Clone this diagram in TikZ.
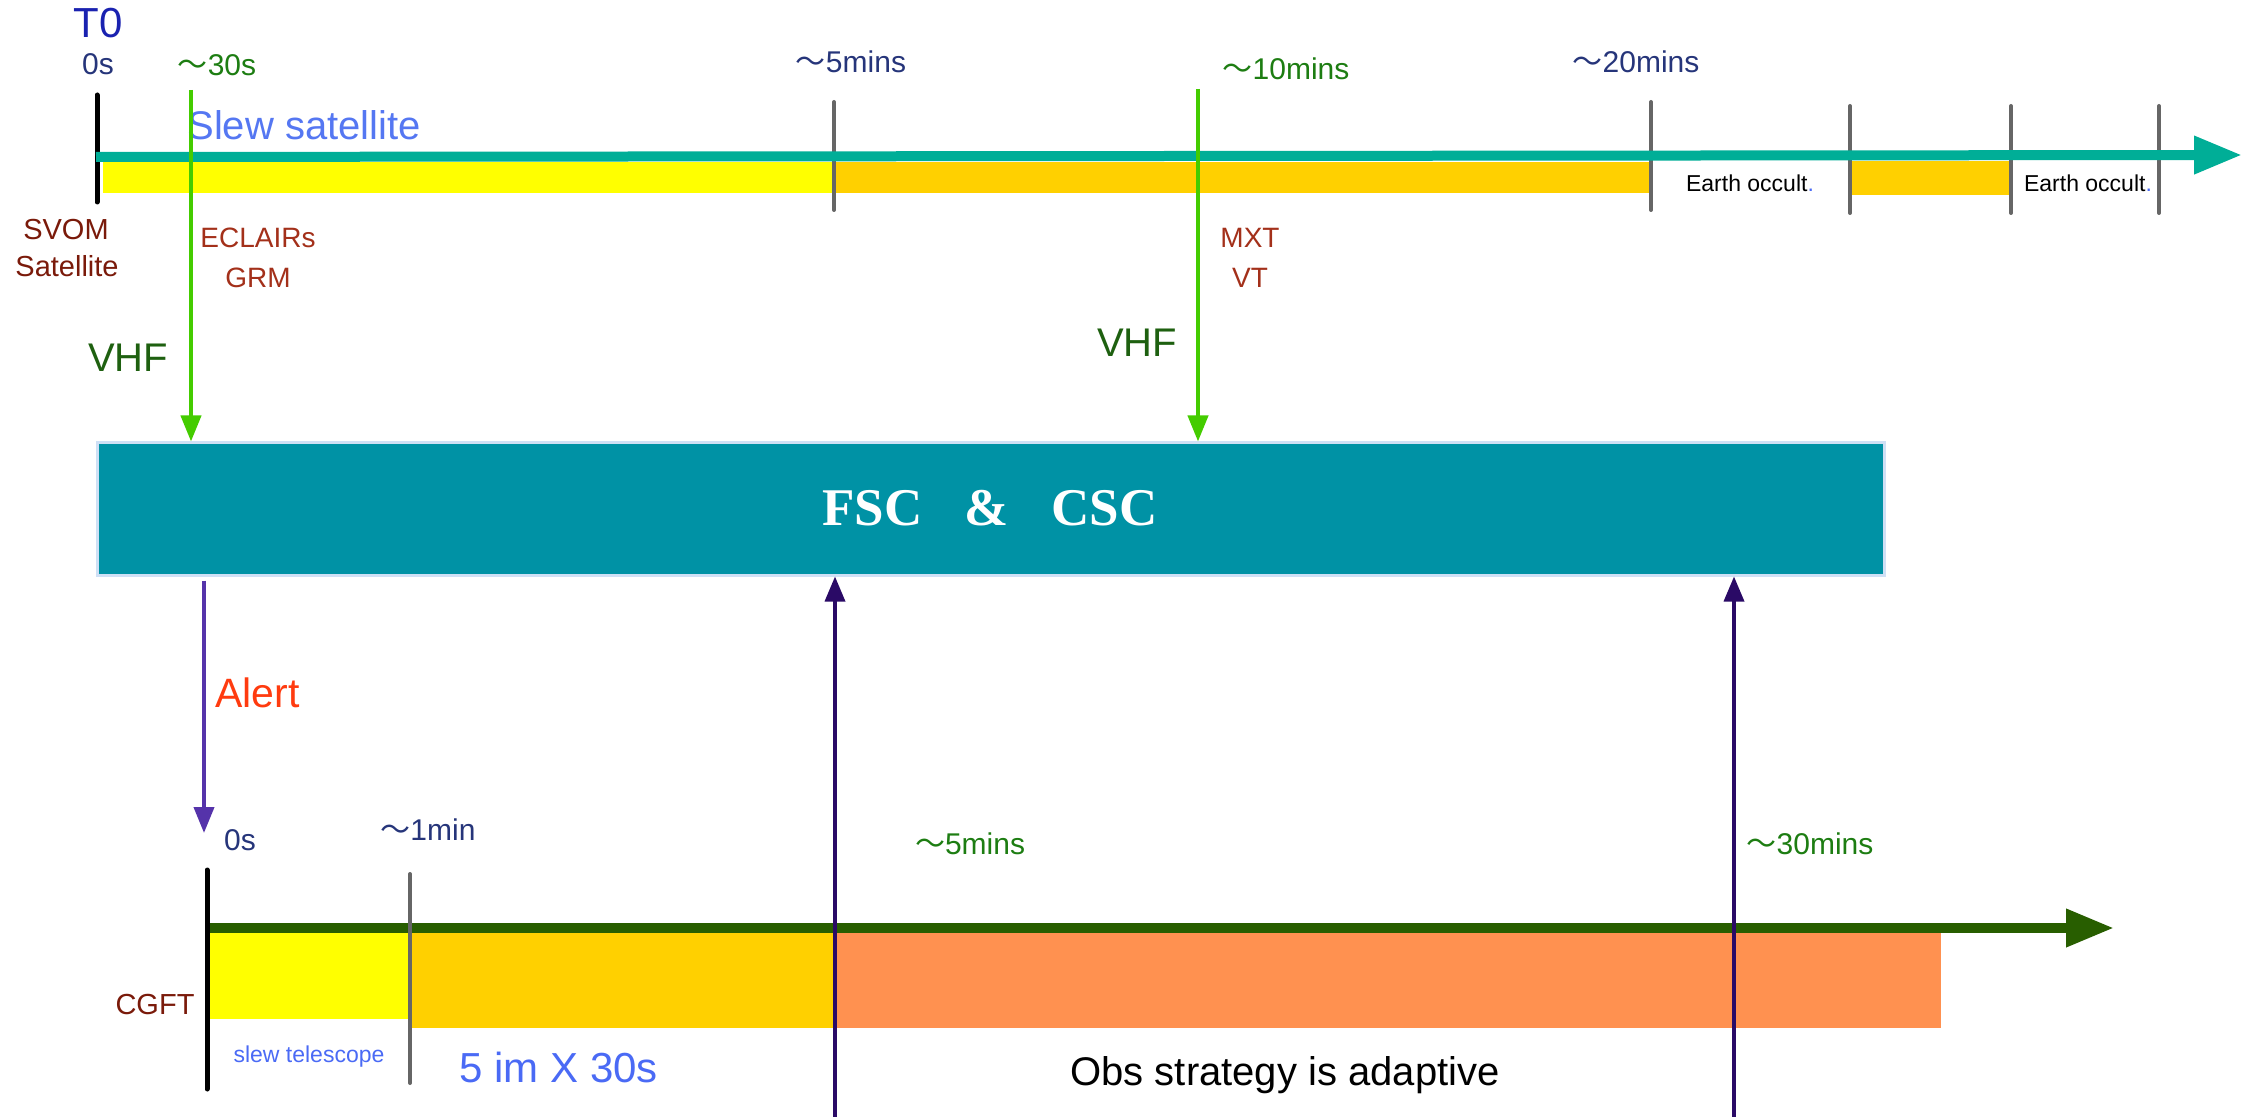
\documentclass[tikz,border=0pt]{standalone}
\usepackage{fontspec}
\setmainfont{Liberation Sans}
\newfontfamily\boxserif{Liberation Serif}
\newfontfamily\cjk{Noto Sans CJK SC}
\usetikzlibrary{arrows.meta}
\newcommand{\mytilde}{{\cjk ～}}
\newcommand{\pxs}[1]{\fontsize{#1}{#1}\selectfont}
\definecolor{tealarrow}{HTML}{00AE97}
\definecolor{yellowbar}{RGB}{255,255,0}
\definecolor{goldbar}{HTML}{FFD000}
\definecolor{orangebar}{HTML}{FF9150}
\definecolor{tickgray}{HTML}{666666}
\definecolor{vgreen}{HTML}{44CC00}
\definecolor{boxfill}{HTML}{0092A5}
\definecolor{boxedge}{HTML}{CFE0F5}
\definecolor{navy}{HTML}{26357A}
\definecolor{tzero}{HTML}{1A22B0}
\definecolor{lgreen}{HTML}{1D7D12}
\definecolor{vhfgreen}{HTML}{1E6010}
\definecolor{slewblue}{HTML}{5577F2}
\definecolor{darkred}{HTML}{7A1A0A}
\definecolor{instred}{HTML}{A3301A}
\definecolor{alertred}{HTML}{FF3B0F}
\definecolor{alertpurple}{HTML}{5533AA}
\definecolor{uppurple}{HTML}{2A0A66}
\definecolor{dgreen}{HTML}{285E00}
\definecolor{dotblue}{HTML}{4A6AF5}
\begin{document}
\begin{tikzpicture}[x=0.5pt,y=-0.5pt,
  lbl/.style={inner sep=0pt, anchor=base},
  timelbl/.style={lbl, font=\pxs{15}},
  instlbl/.style={lbl, font=\pxs{14}, text=instred},
  hostlbl/.style={lbl, font=\pxs{14.5}, text=darkred},
  vhflbl/.style={lbl, font=\pxs{20}, text=vhfgreen},
  occlbl/.style={lbl, font=\pxs{11.5}, text=black},
  ticktall/.style={line width=2.5pt, line cap=round, black},
  tickgrey/.style={line width=2pt, line cap=round, tickgray},
  vhfarrow/.style={line width=2pt, vgreen, -{Triangle[length=13pt,width=10pt]}},
  uparrow/.style={line width=1.75pt, uppurple, -{Triangle[length=12.5pt,width=10pt]}},
]
\useasboundingbox (0,0) rectangle (2243,1117);

% ---------- top timeline (SVOM satellite) ----------
\fill[fill=yellowbar] (103,162) rectangle (834,193);
\fill[fill=goldbar] (834,162) rectangle (1650,193);
\fill[fill=goldbar] (1852,161) rectangle (2010,195);
\draw[ticktall] (97,95) -- (97,202);
\draw[tickgrey] (834,102) -- (834,210);
\draw[tickgrey] (1651,102) -- (1651,210);
\draw[tickgrey] (1850,106) -- (1850,213);
\draw[tickgrey] (2011,106) -- (2011,213);
\draw[tickgrey] (2159,106) -- (2159,213);
\coordinate (topstart) at (96,157);
\coordinate (topend) at (2242,155);
\draw[line width=5pt, tealarrow, -{Triangle[length=24pt,width=18pt]}] (topstart) -- (topend);

\node[lbl, font=\pxs{21}, text=tzero] (t0) at (98,38) {T0};
\node[timelbl, text=navy] (t0s) at (98,75) {0s};
\node[timelbl, text=lgreen] (t30s) at (217,76) {\mytilde30s};
\node[timelbl, text=navy] (t5m) at (851,73) {\mytilde5mins};
\node[timelbl, text=lgreen] (t10m) at (1286,80) {\mytilde10mins};
\node[timelbl, text=navy] (t20m) at (1636,73) {\mytilde20mins};
\node[lbl, anchor=base west, font=\pxs{20}, text=slewblue] (slew) at (187,140) {Slew satellite};
\node[hostlbl] (svom1) at (66,240) {SVOM};
\node[hostlbl] (svom2) at (67,277) {Satellite};
\node[instlbl] (eclairs) at (258,248) {ECLAIRs};
\node[instlbl] (grm) at (258,288) {GRM};
\node[instlbl] (mxt) at (1250,248) {MXT};
\node[instlbl] (vt) at (1250,288) {VT};
\node[occlbl] (occ1) at (1750,192) {Earth occult{\color{dotblue}.}};
\node[occlbl] (occ2) at (2088,192) {Earth occult{\color{dotblue}.}};
\node[vhflbl] (vhf1) at (128,372) {VHF};
\node[vhflbl] (vhf2) at (1137,357) {VHF};

% ---------- central box ----------
\node[draw=boxedge, line width=1.5pt, fill=boxfill, inner sep=0pt,
      minimum width=893.5pt, minimum height=66pt] (fsc) at (990.5,509) {};
\node[lbl, font=\boxserif\bfseries\pxs{26.5}, text=white] (fsctext) at (990,525)
  {FSC\hspace{0.8em}\&\hspace{0.8em}CSC};

% VHF arrows
\coordinate (g1) at (191,90);
\coordinate (g2) at (1198,89);
\draw[vhfarrow] (g1) -- (g1 |- fsc.north);
\draw[vhfarrow] (g2) -- (g2 |- fsc.north);

% ---------- bottom timeline (CGFT) ----------
\fill[fill=yellowbar] (210,933) rectangle (410,1019);
\fill[fill=goldbar] (410,933) rectangle (834,1028);
\fill[fill=orangebar] (834,933) rectangle (1941,1028);
\coordinate (botstart) at (207,928);
\coordinate (botend) at (2114,928);
\draw[line width=5pt, dgreen, -{Triangle[length=24pt,width=18pt]}] (botstart) -- (botend);
\draw[ticktall] (207,870) -- (207,1089);
\draw[tickgrey] (410,874) -- (410,1083);

% alert arrow
\coordinate (alertend) at (204,833);
\draw[line width=2pt, alertpurple, -{Triangle[length=13pt,width=10pt]}]
  ([yshift=-2pt]alertend |- fsc.south) -- (alertend);
\node[lbl, anchor=base west, font=\pxs{20.5}, text=alertred] (alert) at (215,707) {Alert};

% up arrows
\coordinate (p1) at (835,1117);
\coordinate (p2) at (1734,1117);
\draw[uparrow] (p1) -- (p1 |- fsc.south);
\draw[uparrow] (p2) -- (p2 |- fsc.south);

\node[timelbl, text=navy] (b0s) at (240,850) {0s};
\node[timelbl, text=navy] (b1m) at (428,840) {\mytilde1min};
\node[timelbl, text=lgreen] (b5m) at (970,854) {\mytilde5mins};
\node[timelbl, text=lgreen] (b30m) at (1810,854) {\mytilde30mins};
\node[hostlbl] (cgft) at (155,1014) {CGFT};
\node[lbl, font=\pxs{11.5}, text=dotblue] (slewtel) at (309,1062) {slew telescope};
\node[lbl, anchor=base west, font=\pxs{21}, text=dotblue] (fiveim) at (459,1082) {5 im X 30s};
\node[lbl, font=\pxs{20}, text=black] (obs) at (1285,1085) {Obs strategy is adaptive};
\end{tikzpicture}
\end{document}
